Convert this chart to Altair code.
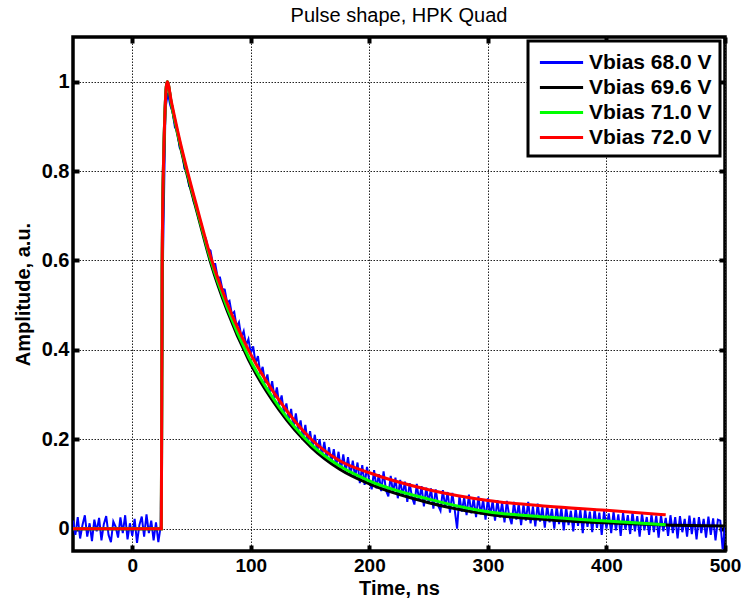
import altair as alt
import pandas as pd

FONT = "Liberation Sans"

# Measured pulse (noisy), sampled every 2 ns from -50 ns
blue_start = -50
blue_step = 2
blue_vals = [
    0.018, -0.014, 0.026, -0.022, 0.008, 0.030, -0.018, 0.012, -0.028, 0.020,
    -0.006, 0.024, -0.026, 0.010, 0.028, -0.014, -0.030, 0.016, 0.004, -0.020,
    0.025, -0.010, 0.030, -0.024, 0.012, -0.016, 0.022, -0.032, 0.008, 0.027,
    -0.018, 0.032, -0.010, 0.018, -0.026, 0.014, -0.030, 0.006, 0.620, 0.940,
    0.975, 0.948, 0.932, 0.898, 0.890, 0.852, 0.846, 0.806, 0.802, 0.766,
    0.762, 0.730, 0.720, 0.694, 0.684, 0.656, 0.650, 0.626, 0.622, 0.592,
    0.592, 0.562, 0.562, 0.536, 0.535, 0.506, 0.510, 0.480, 0.485, 0.452,
    0.462, 0.428, 0.442, 0.410, 0.424, 0.392, 0.408, 0.370, 0.386, 0.346,
    0.362, 0.326, 0.345, 0.306, 0.330, 0.292, 0.316, 0.276, 0.298, 0.258,
    0.280, 0.244, 0.268, 0.226, 0.258, 0.220, 0.242, 0.200, 0.232, 0.190,
    0.218, 0.180, 0.210, 0.172, 0.200, 0.162, 0.194, 0.155, 0.182, 0.148,
    0.178, 0.140, 0.172, 0.130, 0.166, 0.128, 0.160, 0.118, 0.152, 0.115,
    0.148, 0.102, 0.142, 0.098, 0.138, 0.106, 0.088, 0.131, 0.090, 0.122,
    0.084, 0.128, 0.086, 0.072, 0.118, 0.080, 0.114, 0.068, 0.109, 0.074,
    0.105, 0.060, 0.102, 0.070, 0.054, 0.100, 0.062, 0.095, 0.050, 0.092,
    0.058, 0.090, 0.045, 0.088, 0.052, 0.040, 0.086, 0.048, 0.082, 0.036,
    0.080, 0.042, 0.000, 0.074, 0.038, 0.070, 0.030, 0.076, 0.034, 0.068,
    0.026, 0.072, 0.032, 0.065, 0.020, 0.068, 0.030, 0.062, 0.018, 0.064,
    0.025, 0.058, 0.014, 0.062, 0.028, 0.010, 0.060, 0.020, 0.056, 0.008,
    0.054, 0.018, 0.060, 0.012, 0.050, 0.005, 0.056, 0.016, 0.048, 0.002,
    0.052, 0.014, 0.044, 0.000, 0.050, 0.010, 0.046, -0.004, 0.048, 0.008,
    0.040, -0.006, 0.046, 0.006, 0.042, -0.010, 0.044, 0.004, 0.038, -0.008,
    0.044, 0.002, 0.036, -0.014, 0.040, 0.000, 0.034, -0.010, 0.038, -0.004,
    0.032, -0.016, 0.036, -0.002, 0.030, -0.012, 0.037, -0.006, 0.028, -0.018,
    0.034, -0.004, 0.026, -0.014, 0.032, -0.008, 0.029, -0.020, 0.030, -0.006,
    0.024, -0.016, 0.030, -0.010, 0.026, -0.022, 0.028, -0.008, 0.022, -0.018,
    0.029, -0.012, 0.024, -0.024, 0.026, -0.010, 0.022, -0.020, 0.027, -0.014,
    0.023, -0.026, 0.020, 0.018, -0.046, 0.004,
]

# Fitted curves
fit_t = [-50, 24.5, 25.2, 26.3, 29.5, 33, 40, 46.5, 55, 66.5, 80, 98, 124,
         151, 175, 200, 250, 300, 350, 400, 450]
red_vals = [0, 0, 0.58, 0.81, 1.0, 0.955, 0.87, 0.80, 0.715, 0.605, 0.505,
            0.40, 0.287, 0.20, 0.152, 0.125, 0.087, 0.063, 0.050, 0.041, 0.031]
green_vals = [0, 0, 0.58, 0.81, 1.0, 0.95, 0.865, 0.795, 0.71, 0.598, 0.495,
              0.385, 0.272, 0.188, 0.140, 0.107, 0.066, 0.038, 0.026, 0.017, 0.009]
black_t = [-50, 24.5, 25.2, 26.3, 29.5, 33, 40, 46.5, 55, 66.5, 80, 98, 124,
           151, 175, 200, 250, 300, 350, 400, 450, 500]
black_vals = [0, 0, 0.58, 0.81, 1.0, 0.95, 0.862, 0.79, 0.705, 0.592, 0.488,
              0.378, 0.265, 0.182, 0.133, 0.100, 0.058, 0.032, 0.020, 0.013,
              0.008, 0.006]

series_names = ["Vbias 68.0 V", "Vbias 69.6 V", "Vbias 71.0 V", "Vbias 72.0 V"]
series_colors = ["#0000ff", "#000000", "#00ff00", "#ff0000"]

x_ticks = [0, 100, 200, 300, 400, 500]
y_ticks = [0, 0.2, 0.4, 0.6, 0.8, 1]

df_blue = pd.DataFrame({
    "t": [blue_start + i * blue_step for i in range(len(blue_vals))],
    "v": blue_vals,
    "s": series_names[0],
})
df_fit = pd.concat([
    pd.DataFrame({"t": black_t, "v": black_vals, "s": series_names[1]}),
    pd.DataFrame({"t": fit_t, "v": green_vals, "s": series_names[2]}),
    pd.DataFrame({"t": fit_t, "v": red_vals, "s": series_names[3]}),
])

xscale = alt.Scale(domain=[-50, 500], nice=False, zero=False)
yscale = alt.Scale(domain=[-0.05, 1.1], nice=False, zero=False)

# main axes: labels + inward ticks (via negative offset)
x_main = alt.X("t:Q", scale=xscale,
               axis=alt.Axis(values=x_ticks, title="Time, ns", format="d",
                             orient="bottom", offset=-6, ticks=True,
                             tickSize=6, tickWidth=4, tickColor="black",
                             labelPadding=5, titlePadding=3, grid=True,
                             labelFlush=False, labelFontSize=19))
y_main = alt.Y("v:Q", scale=yscale,
               axis=alt.Axis(values=y_ticks, title="Amplitude, a.u.",
                             format="~g", orient="left", offset=-6,
                             ticks=True, tickSize=6, tickWidth=4,
                             tickColor="black", labelPadding=4,
                             titlePadding=8, grid=True, labelFlush=False))
# mirror axes: inward ticks only
x_top = alt.X("t:Q", scale=xscale,
              axis=alt.Axis(values=x_ticks, title=None, labels=False,
                            orient="top", offset=-6, ticks=True, tickSize=6,
                            tickWidth=4, tickColor="black", grid=False))
y_right = alt.Y("v:Q", scale=yscale,
                axis=alt.Axis(values=y_ticks, title=None, labels=False,
                              orient="right", offset=-6, ticks=True,
                              tickSize=6, tickWidth=4, tickColor="black",
                              grid=False))

color_scale = alt.Scale(domain=series_names, range=series_colors)
cenc = alt.Color("s:N", scale=color_scale, title=None,
                 legend=alt.Legend(orient="none", legendX=455, legendY=4,
                                   fillColor="white", strokeColor="black",
                                   padding=8,
                                   symbolType="M-1.8,0H1.8",
                                   symbolStrokeWidth=3, symbolSize=576,
                                   symbolOffset=12,
                                   labelFont=FONT, labelFontSize=21,
                                   labelFontWeight="bold",
                                   labelColor="black", rowPadding=1,
                                   labelOffset=14))

blue = alt.Chart(df_blue).mark_line(strokeWidth=2, clip=True).encode(
    x=x_main, y=y_main, color=cenc)
fits = alt.Chart(df_fit).mark_line(strokeWidth=3, interpolate="monotone",
                                   clip=True).encode(
    x=x_top, y=y_right, color=cenc)

chart = alt.layer(blue, fits).resolve_axis(
    x="independent", y="independent"
).properties(
    width=652, height=514,
    autosize=alt.AutoSizeParams(type="none"),
    padding={"left": 73, "top": 37, "right": 18, "bottom": 51},
    title=alt.TitleParams("Pulse shape, HPK Quad", font=FONT, fontSize=20,
                          fontWeight="normal", color="black", offset=9),
).configure_view(
    stroke="black", strokeWidth=3.5
).configure_legend(
    strokeWidth=3
).configure_axis(
    domain=False, labelFont=FONT, labelFontSize=20,
    labelFontWeight="bold", labelColor="black", titleFont=FONT,
    titleFontSize=20, titleFontWeight="bold", titleColor="black",
    gridColor="#222222", gridDash=[1.5, 1.5], gridWidth=1, gridOpacity=1
)

chart.save("out.html", embed_options={"renderer": "svg", "actions": False})
